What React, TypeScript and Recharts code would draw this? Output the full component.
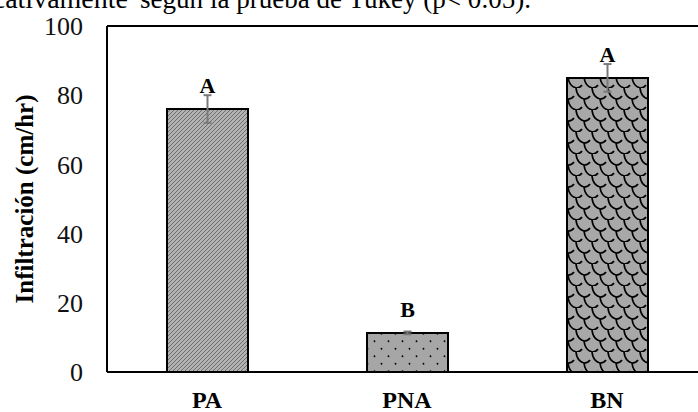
import React from 'react';
import { BarChart, Bar, XAxis, YAxis, ErrorBar, Cell, LabelList, ReferenceLine } from 'recharts';

const categories = ['PA', 'PNA', 'BN'];
const means = [76, 11.3, 85];
const errors = [4, 0.4, 4];
const letters = ['A', 'B', 'A'];
const yTicks = [0, 20, 40, 60, 80, 100];
const patterns = ['hatch', 'dots', 'scales'];
const captionStart = 'significativamente';
const captionRest = 'según la prueba de Tukey (p< 0.05).';

const data = categories.map((name, i) => ({
  name,
  value: means[i],
  err: errors[i],
  letter: letters[i],
}));

const serif = "'Liberation Serif', 'Times New Roman', serif";

const LetterLabel = (props: any) => {
  const { x, y, width, index } = props;
  return (
    <text
      x={x + width / 2}
      y={y - 16}
      textAnchor="middle"
      fontFamily={serif}
      fontWeight="bold"
      fontSize={22}
      fill="#000"
    >
      {letters[index]}
    </text>
  );
};

const AxisTitle = (props: any) => {
  const vb = props.viewBox;
  const cx = vb.x + 24;
  const cy = vb.y + vb.height / 2;
  return (
    <text
      x={cx}
      y={cy}
      transform={`rotate(-90, ${cx}, ${cy})`}
      textAnchor="middle"
      dominantBaseline="central"
      fontFamily={serif}
      fontWeight="bold"
      fontSize={25}
      fill="#000"
    >
      Infiltración (cm/hr)
    </text>
  );
};

// fish-scale shingles: one hooked stroke per scale, rows offset by half a cell
const scalePath = [
  [0, 0], [16, 0], [-8, 11], [8, 11],
].map(([sx, sy]) => `M${sx},${sy} Q${sx + 1},${sy + 9} ${sx + 8},${sy + 11} Q${sx + 12},${sy + 11} ${sx + 14},${sy + 8}`).join(' ');

export default function App() {
  return (
    <div style={{ position: 'absolute', left: 0, top: 0, width: 698, height: 412, overflow: 'hidden', background: '#fff' }}>
      {/* caption of the page, cut by the top edge */}
      <svg width={698} height={412} style={{ position: 'absolute', left: 0, top: 0 }}>
        <text x={128} y={8} textAnchor="end" fontFamily={serif} fontSize={28} fill="#000">
          {captionStart}
        </text>
        <text x={140} y={8} textLength={391} lengthAdjust="spacingAndGlyphs" fontFamily={serif} fontSize={28} fill="#000">
          {captionRest}
        </text>
      </svg>
      <BarChart
        width={710}
        height={412}
        data={data}
        margin={{ top: 26, right: 3, bottom: 0, left: 0 }}
        style={{ position: 'absolute', left: 0, top: 0 }}
      >
        <defs>
          <pattern id="hatch" patternUnits="userSpaceOnUse" width="4" height="4">
            <rect width="4" height="4" fill="#b2b2b2" />
            <path d="M-1,1 l2,-2 M0,4 l4,-4 M3,5 l2,-2" stroke="#666" strokeWidth="0.9" />
          </pattern>
          <pattern id="dots" patternUnits="userSpaceOnUse" width="14" height="15">
            <rect width="14" height="15" fill="#a6a6a6" />
            <circle cx="3.5" cy="3.75" r="0.9" fill="#000" />
            <circle cx="10.5" cy="11.25" r="0.9" fill="#000" />
          </pattern>
          <pattern id="scales" patternUnits="userSpaceOnUse" width="16" height="22">
            <rect width="16" height="22" fill="#a8a8a8" />
            <path d={scalePath} stroke="#000" strokeWidth="1.7" fill="none" />
          </pattern>
        </defs>
        <XAxis
          dataKey="name"
          axisLine={{ stroke: '#000', strokeWidth: 2 }}
          tickLine={false}
          tickSize={0}
          tickMargin={19}
          height={40}
          tick={{ fontFamily: serif, fontWeight: 'bold', fontSize: 24, fill: '#000' }}
        />
        <YAxis
          domain={[0, 100]}
          ticks={yTicks}
          width={107}
          axisLine={{ stroke: '#000', strokeWidth: 2 }}
          tickLine={false}
          tickSize={0}
          tickMargin={24}
          tick={{ fontFamily: serif, fontSize: 26, fill: '#111' }}
          label={{ content: AxisTitle }}
        />
        <ReferenceLine y={100} stroke="#000" strokeWidth={2} />
        <Bar dataKey="value" barSize={81} stroke="#000" strokeWidth={2} isAnimationActive={false}>
          {data.map((d, i) => (
            <Cell key={d.name} fill={`url(#${patterns[i]})`} />
          ))}
          <ErrorBar dataKey="err" width={4} stroke="#7a7a7a" strokeWidth={2} isAnimationActive={false} />
          <LabelList dataKey="letter" content={LetterLabel} />
        </Bar>
      </BarChart>
    </div>
  );
}
